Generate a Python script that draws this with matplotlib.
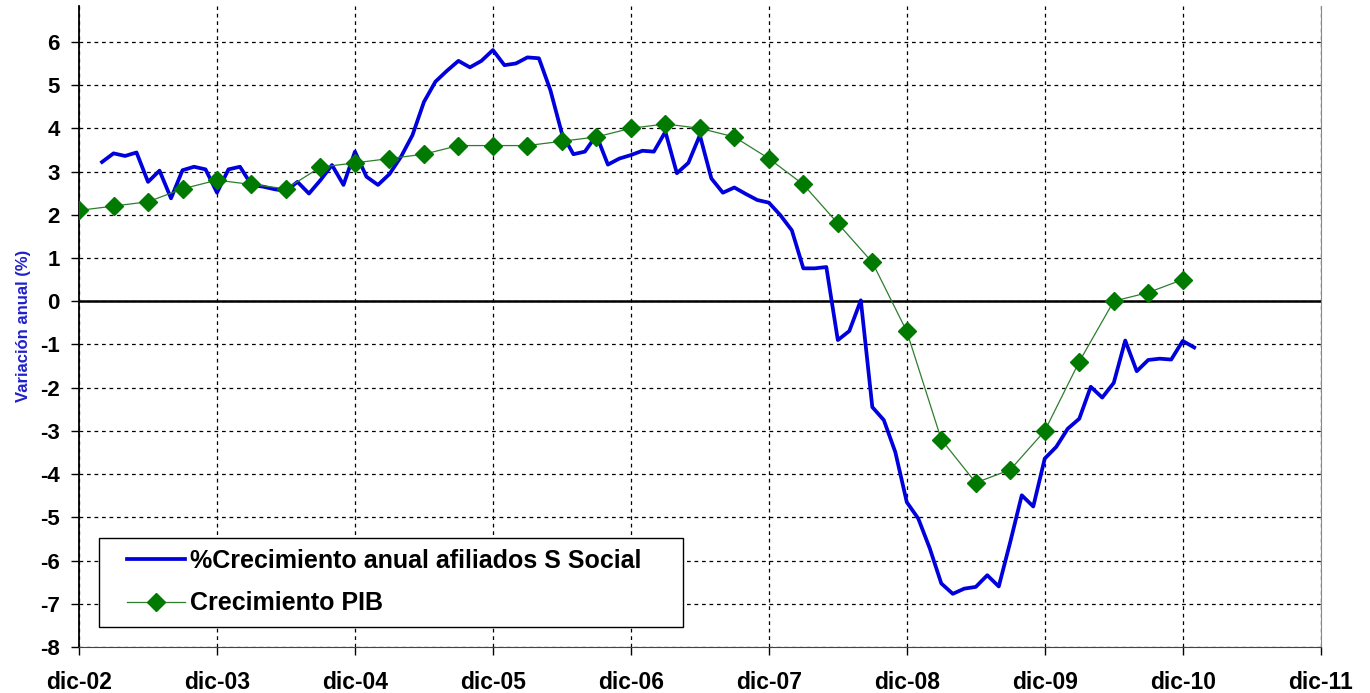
import matplotlib
matplotlib.use("Agg")
import matplotlib.pyplot as plt
from matplotlib.patches import Rectangle
import numpy as np

plt.rcParams['font.family'] = ['Liberation Sans', 'DejaVu Sans']
plt.rcParams['axes.unicode_minus'] = False

# eje x en meses desde dic-02
tick_labels = ['dic-02', 'dic-03', 'dic-04', 'dic-05', 'dic-06',
               'dic-07', 'dic-08', 'dic-09', 'dic-10', 'dic-11']

# afiliados S Social, mensual (feb-03 .. ene-11)
afil_start = 2
afiliados = [3.22, 3.42, 3.36, 3.44, 2.76, 3.02, 2.38, 3.03, 3.11, 3.05, 2.51,
             3.05, 3.11, 2.69, 2.65, 2.59, 2.55, 2.76, 2.49, 2.80, 3.15, 2.69, 3.46,
             2.88, 2.69, 2.94, 3.34, 3.84, 4.61, 5.08, 5.33, 5.56, 5.41, 5.56, 5.81,
             5.46, 5.50, 5.64, 5.62, 4.88, 3.88, 3.40, 3.46, 3.84, 3.16, 3.30, 3.38,
             3.48, 3.46, 3.92, 2.96, 3.20, 3.84, 2.84, 2.51, 2.63, 2.48, 2.34, 2.28,
             1.99, 1.64, 0.76, 0.76, 0.79, -0.90, -0.69, 0.02, -2.45, -2.75, -3.49, -4.65,
             -5.03, -5.72, -6.53, -6.77, -6.65, -6.61, -6.34, -6.60, -5.57, -4.49, -4.75, -3.64,
             -3.37, -2.95, -2.72, -1.98, -2.23, -1.89, -0.91, -1.62, -1.36, -1.33, -1.35, -0.92,
             -1.07]

# PIB, trimestral (dic-02 .. dic-10)
pib = [2.1, 2.2, 2.3, 2.6, 2.8, 2.7, 2.6, 3.1, 3.2, 3.3, 3.4, 3.6, 3.6,
       3.6, 3.7, 3.8, 4.0, 4.1, 4.0, 3.8, 3.3, 2.7, 1.8, 0.9, -0.7,
       -3.2, -4.2, -3.9, -3.0, -1.4, 0.0, 0.2, 0.5]

x_afil = np.arange(len(afiliados)) + afil_start
x_pib = np.arange(len(pib)) * 3

fig = plt.figure(figsize=(13.7, 6.93), dpi=100)
ax = fig.add_axes([0.0577, 0.0664, 0.9063, 0.925])

ax.plot(x_afil, afiliados, color='#0000DD', lw=2.7, zorder=3,
        label='%Crecimiento anual afiliados S Social')
ax.plot(x_pib, pib, color='#2E7D2E', lw=0.9, marker='D', markersize=9,
        markerfacecolor='#007A00', markeredgecolor='#007A00', zorder=4,
        label='Crecimiento PIB')

ax.axhline(0, color='black', lw=1.8, zorder=2)

ax.set_xlim(0, 108)
ax.set_ylim(-8, 6.83)
ax.set_xticks(np.arange(0, 109, 12))
ax.set_xticklabels(tick_labels)
ax.set_yticks(np.arange(-8, 7, 1))

ax.grid(True, color='black', linestyle=(0, (3, 3)), lw=0.9)
ax.set_axisbelow(True)

ax.spines['top'].set_visible(False)
ax.spines['right'].set_color('#888888')
ax.spines['bottom'].set_color('#444444')
ax.spines['left'].set_color('black')
ax.spines['left'].set_linewidth(1.3)

ax.tick_params(axis='both', length=6, direction='out', width=1)
ax.tick_params(axis='y', labelsize=16, pad=8)
ax.tick_params(axis='x', labelsize=16.5, pad=11)
for t in ax.get_xticklabels() + ax.get_yticklabels():
    t.set_fontweight('bold')

fig.text(0.0175, 0.53, 'Variación anual (%)', rotation=90, color='#2020CC',
         fontsize=12, fontweight='bold', ha='center', va='center')

# caja de la leyenda (más margen a los lados que arriba/abajo)
ax.add_patch(Rectangle((0.0161, 0.0312), 0.470, 0.1388, transform=ax.transAxes,
                       facecolor='white', edgecolor='black', lw=1.0, zorder=5))
leg = ax.legend(loc='center left', bbox_to_anchor=(0.0386, 0.1014),
                prop={'size': 18, 'weight': 'bold'}, frameon=False,
                handlelength=2.32, borderpad=0, labelspacing=0.75,
                handletextpad=0.2, borderaxespad=0)
leg.set_zorder(6)

fig.savefig('out.png', dpi=100)
